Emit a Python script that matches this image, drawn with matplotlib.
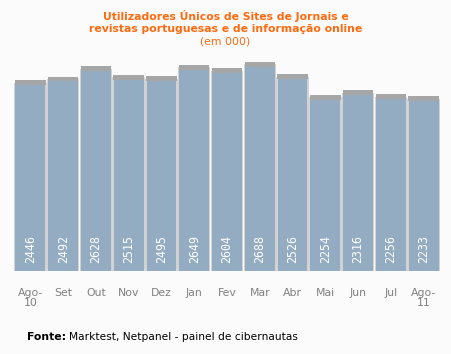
import matplotlib
matplotlib.use("Agg")
import matplotlib.pyplot as plt

# data (thousands of unique users)
months = ["Ago-\n10", "Set", "Out", "Nov", "Dez", "Jan", "Fev", "Mar", "Abr", "Mai", "Jun", "Jul", "Ago-\n11"]
users = [2446, 2492, 2628, 2515, 2495, 2649, 2604, 2688, 2526, 2254, 2316, 2256, 2233]

W, H = 451, 354
fig = plt.figure(figsize=(W / 100, H / 100), dpi=100)
fig.patch.set_facecolor("#fbfbfb")

# axes placed in pixel terms: bars from x=14..440, baseline at y=271, top at y=55
ax = fig.add_axes([14 / W, (H - 271) / H, 426 / W, 216 / H])
ax.set_facecolor("#fbfbfb")
ax.set_xlim(-0.5, len(users) - 0.5)
ax.set_ylim(0, 216 * 13.15)

x = range(len(users))
# light grey frame + darker shadow at the top of each bar
ax.bar(x, [v + 30 for v in users], width=0.99, color="#d2d2d2", zorder=1)
ax.bar(x, 65, bottom=[v for v in users], width=0.93, color="#a6a6a6", zorder=2)
ax.bar(x, users, width=0.91, color="#93acc2", zorder=3)

for i, v in enumerate(users):
    ax.text(i, 22 * 13.15, str(v), rotation=90, ha="center", va="center",
            color="white", fontsize=8.4, family="DejaVu Sans Mono", zorder=4)

ax.set_xticks(list(x))
ax.set_xticklabels(months, color="#808080", fontsize=7.8, linespacing=1.05)
ax.tick_params(axis="x", length=0, pad=12)
ax.set_yticks([])
for s in ax.spines.values():
    s.set_visible(False)

fig.text(0.5, 1 - 16 / H, "Utilizadores Únicos de Sites de Jornais e", ha="center", va="center",
         color="#ff6a10", fontsize=7.8, fontweight="bold")
fig.text(0.5, 1 - 29 / H, "revistas portuguesas e de informação online", ha="center", va="center",
         color="#ff6a10", fontsize=7.8, fontweight="bold")
fig.text(0.5, 1 - 42 / H, "(em 000)", ha="center", va="center",
         color="#ff6a10", fontsize=7.8)

fig.text(27 / W, 1 - 337 / H, "Fonte:", ha="left", va="center", color="black",
         fontsize=7.8, fontweight="bold")
fig.text(69 / W, 1 - 337 / H, "Marktest, Netpanel - painel de cibernautas", ha="left", va="center",
         color="black", fontsize=7.7)

fig.savefig("out.png", dpi=100, facecolor=fig.get_facecolor())
